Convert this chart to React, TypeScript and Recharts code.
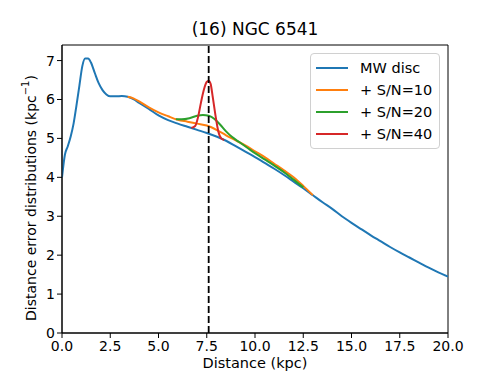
import React from 'react';
import { LineChart, Line, XAxis, YAxis, ReferenceLine, ReferenceArea, Legend } from 'recharts';

// Distance (kpc) samples and distribution values (kpc^-1)
const mwX = [0, 0.15, 0.3, 0.45, 0.6, 0.75, 0.9, 1.05, 1.2, 1.35, 1.5, 1.7, 1.9, 2.1, 2.3, 2.5, 2.8, 3.1, 3.4, 3.7, 4.0, 4.5, 5.0, 5.5, 6.0, 6.5, 7.0, 7.5, 8.0, 8.5, 9.0, 9.5, 10.0, 10.5, 11.0, 11.5, 12.0, 12.5, 13.0, 13.5, 14.0, 14.5, 15.0, 15.5, 16.0, 16.5, 17.0, 17.5, 18.0, 18.5, 19.0, 19.5, 20.0];
const mwY = [4.0, 4.58, 4.8, 5.05, 5.38, 5.85, 6.35, 6.85, 7.05, 7.05, 6.95, 6.68, 6.42, 6.24, 6.13, 6.08, 6.08, 6.09, 6.07, 6.01, 5.91, 5.76, 5.59, 5.47, 5.38, 5.3, 5.22, 5.14, 5.05, 4.94, 4.8, 4.66, 4.52, 4.37, 4.22, 4.06, 3.89, 3.72, 3.54, 3.36, 3.19, 3.0, 2.83, 2.67, 2.51, 2.36, 2.21, 2.07, 1.94, 1.81, 1.68, 1.56, 1.45];

const sn10X = [3.4, 3.7, 4.0, 4.5, 5.0, 5.5, 6.0, 6.5, 7.0, 7.5, 8.0, 8.5, 9.0, 9.5, 10.0, 10.5, 11.0, 11.5, 12.0, 12.5, 13.0];
const sn10Y = [6.07, 6.03, 5.95, 5.8, 5.67, 5.57, 5.48, 5.43, 5.38, 5.33, 5.22, 5.08, 4.95, 4.82, 4.67, 4.52, 4.35, 4.18, 4.0, 3.78, 3.54];

const sn20X = [5.9, 6.2, 6.6, 7.0, 7.3, 7.6, 7.9, 8.2, 8.5, 8.8, 9.2, 9.6, 10.0, 10.5, 11.0, 11.5, 12.0, 12.5];
const sn20Y = [5.49, 5.49, 5.52, 5.58, 5.6, 5.58, 5.5, 5.35, 5.18, 5.04, 4.9, 4.76, 4.62, 4.46, 4.3, 4.13, 3.94, 3.74];

const sn40X = [6.7, 6.9, 7.05, 7.2, 7.35, 7.5, 7.6, 7.7, 7.8, 7.95, 8.1, 8.25, 8.4];
const sn40Y = [5.27, 5.32, 5.55, 5.92, 6.25, 6.45, 6.48, 6.4, 6.1, 5.6, 5.18, 5.0, 4.96];

const xTicks = [0, 2.5, 5, 7.5, 10, 12.5, 15, 17.5, 20];
const yTicks = [0, 1, 2, 3, 4, 5, 6, 7];
const clusterDistance = 7.6;

const seriesNames = ['MW disc', '+ S/N=10', '+ S/N=20', '+ S/N=40'];
const seriesColors = ['#1f77b4', '#ff7f0e', '#2ca02c', '#d62728'];

const toPoints = (xs: number[], ys: number[]) => xs.map((x, i) => ({ x, y: ys[i] }));
const series = [
  toPoints(mwX, mwY),
  toPoints(sn10X, sn10Y),
  toPoints(sn20X, sn20Y),
  toPoints(sn40X, sn40Y),
];

const FONT = '"DejaVu Sans", sans-serif';

const LegendBox = () => (
  <div
    style={{
      background: 'rgba(255,255,255,0.8)',
      border: '1px solid #d0d0d0',
      borderRadius: 4,
      padding: '3px 6px 3px 5px',
      fontFamily: FONT,
      fontSize: 14.5,
      color: '#000',
      boxSizing: 'border-box',
      width: 130,
    }}
  >
    {seriesNames.map((n, i) => (
      <div key={n} style={{ display: 'flex', alignItems: 'center', height: 22 }}>
        <div style={{ width: 32, height: 2, background: seriesColors[i], marginRight: 12 }} />
        <span style={{ whiteSpace: 'nowrap' }}>{n}</span>
      </div>
    ))}
  </div>
);

export default function App() {
  return (
    <div style={{ position: 'absolute', left: 0, top: 0, width: 498, height: 374, background: '#fff' }}>
      <div
        style={{
          position: 'absolute',
          left: 62,
          width: 386,
          top: 19,
          textAlign: 'center',
          fontFamily: FONT,
          fontSize: 17,
          lineHeight: '20px',
          color: '#000',
        }}
      >
        (16) NGC 6541
      </div>
      <LineChart width={498} height={374} margin={{ top: 45, right: 50, left: 0, bottom: 0 }}>
        <XAxis
          dataKey="x"
          type="number"
          domain={[0, 20]}
          ticks={xTicks}
          tickFormatter={(v: number) => v.toFixed(1)}
          height={41}
          tickSize={5}
          tickMargin={3}
          axisLine={{ stroke: '#000' }}
          tickLine={{ stroke: '#000' }}
          tick={{ fill: '#000', fontSize: 14, fontFamily: FONT }}
          allowDataOverflow
          label={(p: any) => {
            const vb = p.viewBox || {};
            return (
              <text x={vb.x + vb.width / 2} y={vb.y + 35} textAnchor="middle" fontFamily={FONT} fontSize={14.5} fill="#000">
                Distance (kpc)
              </text>
            );
          }}
        />
        <YAxis
          type="number"
          domain={[0, 7.4]}
          ticks={yTicks}
          width={62}
          tickSize={5}
          axisLine={{ stroke: '#000' }}
          tickLine={{ stroke: '#000' }}
          tick={{ fill: '#000', fontSize: 14, fontFamily: FONT }}
          allowDataOverflow
          label={() => {
            const cx = 31;
            const cy = 198;
            return (
              <text
                x={cx}
                y={cy}
                transform={`rotate(-90 ${cx} ${cy})`}
                textAnchor="middle"
                dominantBaseline="central"
                fontFamily={FONT}
                fontSize={14}
                fill="#000"
              >
                Distance error distributions (kpc
                <tspan dy={-6} fontSize={10}>−1</tspan>
                <tspan dy={6}>)</tspan>
              </text>
            );
          }}
        />
        <ReferenceArea x1={0} x2={20} y1={0} y2={7.4} fill="none" stroke="#000" strokeWidth={1} />
        {series.map((d, i) => (
          <Line
            key={seriesNames[i]}
            data={d}
            dataKey="y"
            name={seriesNames[i]}
            type="monotone"
            stroke={seriesColors[i]}
            strokeWidth={2}
            dot={false}
            activeDot={false}
            isAnimationActive={false}
          />
        ))}
        <ReferenceLine x={clusterDistance} stroke="#000" strokeWidth={1.8} strokeDasharray="7 3" />
        <Legend
          layout="horizontal"
          align="center"
          verticalAlign="middle"
          content={() => <LegendBox />}
          wrapperStyle={{ position: 'absolute', left: 310, top: 53, width: 130 }}
        />
      </LineChart>
    </div>
  );
}
